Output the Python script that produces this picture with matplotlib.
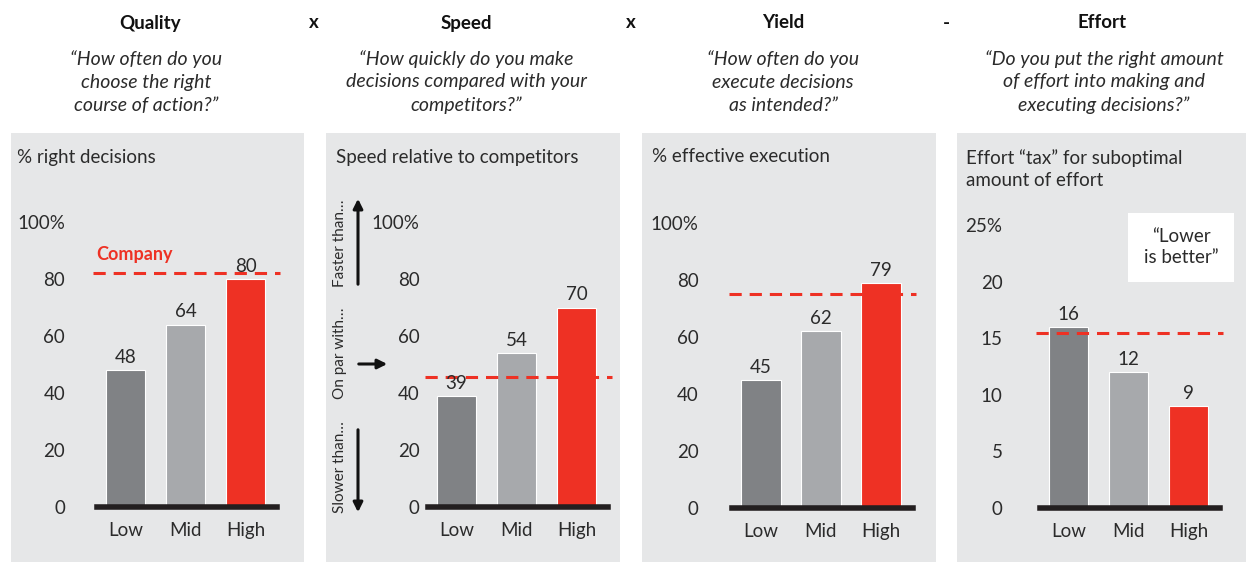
import matplotlib
matplotlib.use("Agg")
import matplotlib.pyplot as plt
from matplotlib.patches import Rectangle, FancyArrowPatch

plt.rcParams["font.family"] = ["Lato", "DejaVu Sans"]

# ── Data ──────────────────────────────────────────────────────────────
categories = ["Low", "Mid", "High"]
quality = [48, 64, 80]
speed = [39, 54, 70]
yield_vals = [45, 62, 79]
effort = [16, 12, 9]
company_ref = [82, 45.5, 75, 15.5]

headers = ["Quality", "Speed", "Yield", "Effort"]
operators = ["x", "x", "-"]
questions = [
    "\u201cHow often do you\nchoose the right\ncourse of action?\u201d",
    "\u201cHow quickly do you make\ndecisions compared with your\ncompetitors?\u201d",
    "\u201cHow often do you\nexecute decisions\nas intended?\u201d",
    "\u201cDo you put the right amount\nof effort into making and\nexecuting decisions?\u201d",
]
panel_titles = [
    "% right decisions",
    "Speed relative to competitors",
    "% effective execution",
    "Effort \u201ctax\u201d for suboptimal\namount of effort",
]
yticks_pct = [0, 20, 40, 60, 80, 100]
ylabels_pct = ["0", "20", "40", "60", "80", "100%"]
yticks_eff = [0, 5, 10, 15, 20, 25]
ylabels_eff = ["0", "5", "10", "15", "20", "25%"]

# ── Style ─────────────────────────────────────────────────────────────
W, H = 1248, 565
BG = "#E6E7E8"
TXT = "#2B2B2B"
RED = "#EE3124"
bar_colours = ["#808285", "#A7A9AC", RED]


def fx(x):
    return x / W


def fy(y):
    return 1 - y / H


fig = plt.figure(figsize=(W / 100, H / 100), dpi=100)

# panel backgrounds (left, right) in pixels, y 133..562
panels = [(11, 304), (326, 620), (642, 936), (957, 1246)]
for left, right in panels:
    fig.add_artist(Rectangle((fx(left), fy(562)), fx(right - left),
                             (562 - 133) / H, transform=fig.transFigure,
                             facecolor=BG, edgecolor="none", zorder=0))

# headers, operators and questions
header_x = [150, 466, 783, 1102]
question_x = [146, 466, 783, 1104]
for hx, qx, title, q in zip(header_x, question_x, headers, questions):
    fig.text(fx(hx), fy(23), title, ha="center", va="center",
             fontsize=13.5, fontweight="bold", color="#111111")
    fig.text(fx(qx), fy(82), q, ha="center", va="center", fontsize=14,
             style="italic", color=TXT, linespacing=1.42)
for ox, op in zip([314, 631, 946], operators):
    fig.text(fx(ox), fy(23), op, ha="center", va="center",
             fontsize=13.5, fontweight="bold", color="#111111")

# axes: baseline extent in px, top px for max tick, y pad (pt)
axes_spec = [
    (97, 277, 507, 222, 100, quality, yticks_pct, ylabels_pct, 23),
    (428, 608, 507, 222, 100, speed, yticks_pct, ylabels_pct, 6),
    (732, 913, 508, 223, 100, yield_vals, yticks_pct, ylabels_pct, 24),
    (1040, 1220, 508, 225, 25, effort, yticks_eff, ylabels_eff, 27),
]
dash_ext = [(-0.022, 1.017), (-0.017, 1.022), (-0.017, 1.017),
            (-0.022, 1.017)]
title_x = [17, 336, 652, 966]

for i, (x0, x1, yb, yt, ymax, vals, yt_, yl_, pad) in enumerate(axes_spec):
    ax = fig.add_axes([fx(x0), fy(yb), fx(x1 - x0), (yb - yt) / H])
    ax.set_facecolor("none")
    ax.set_xlim(-0.475, 2.525)
    ax.set_ylim(0, ymax)
    ax.bar(range(3), vals, width=0.66, color=bar_colours,
           edgecolor="white", linewidth=0.8, zorder=2)
    for xi, v in enumerate(vals):
        ax.annotate(str(v), (xi, v), xytext=(0, 3),
                    textcoords="offset points", ha="center", va="bottom",
                    fontsize=13.5, color=TXT, zorder=4)
    ax.axhline(company_ref[i], xmin=dash_ext[i][0], xmax=dash_ext[i][1],
               color=RED, lw=2.2, linestyle=(0, (4, 2.6)), clip_on=False,
               zorder=3)
    for s in ["top", "left", "right"]:
        ax.spines[s].set_visible(False)
    ax.spines["bottom"].set_linewidth(4)
    ax.spines["bottom"].set_color("#231F20")
    ax.spines["bottom"].set_zorder(5)
    ax.set_yticks(yt_)
    ax.set_yticklabels(yl_)
    ax.set_xticks(range(3))
    ax.set_xticklabels(categories)
    ax.tick_params(axis="y", length=0, pad=pad, labelsize=13.5,
                   labelcolor=TXT)
    ax.tick_params(axis="x", length=0, pad=11, labelsize=13.5,
                   labelcolor=TXT)

    ty = 157 if "\n" not in panel_titles[i] else 169
    fig.text(fx(title_x[i]), fy(ty), panel_titles[i], ha="left",
             va="center", fontsize=13.5, color=TXT, linespacing=1.4)

    if i == 0:
        ax.text(-0.49, company_ref[i] + 3.5, "Company", ha="left",
                va="bottom", fontsize=13, fontweight="bold", color=RED)
    if i == 3:
        fig.add_artist(Rectangle((fx(1128), fy(282)), fx(1234 - 1128),
                                 (282 - 213) / H,
                                 transform=fig.transFigure,
                                 facecolor="white", edgecolor="none",
                                 zorder=1))
        fig.text(fx(1181), fy(247), "\u201cLower\nis better\u201d",
                 ha="center", va="center", fontsize=13.5, color=TXT,
                 linespacing=1.3, zorder=2)

# speed panel side arrows
arrow_kw = dict(transform=fig.transFigure, arrowstyle="-|>",
                mutation_scale=14, color="#111111", lw=2.2)
fig.add_artist(FancyArrowPatch((fx(358), fy(287)), (fx(358), fy(196)),
                               **arrow_kw))
fig.add_artist(FancyArrowPatch((fx(358), fy(427)), (fx(358), fy(515)),
                               **arrow_kw))
fig.add_artist(FancyArrowPatch((fx(356), fy(364)), (fx(390), fy(364)),
                               **arrow_kw))
for label, ly in [("Faster than\u2026", 243), ("On par with\u2026", 353),
                  ("Slower than\u2026", 467)]:
    fig.text(fx(340), fy(ly), label, rotation=90, ha="center",
             va="center", fontsize=11, color=TXT)

fig.savefig("out.png", dpi=100)
